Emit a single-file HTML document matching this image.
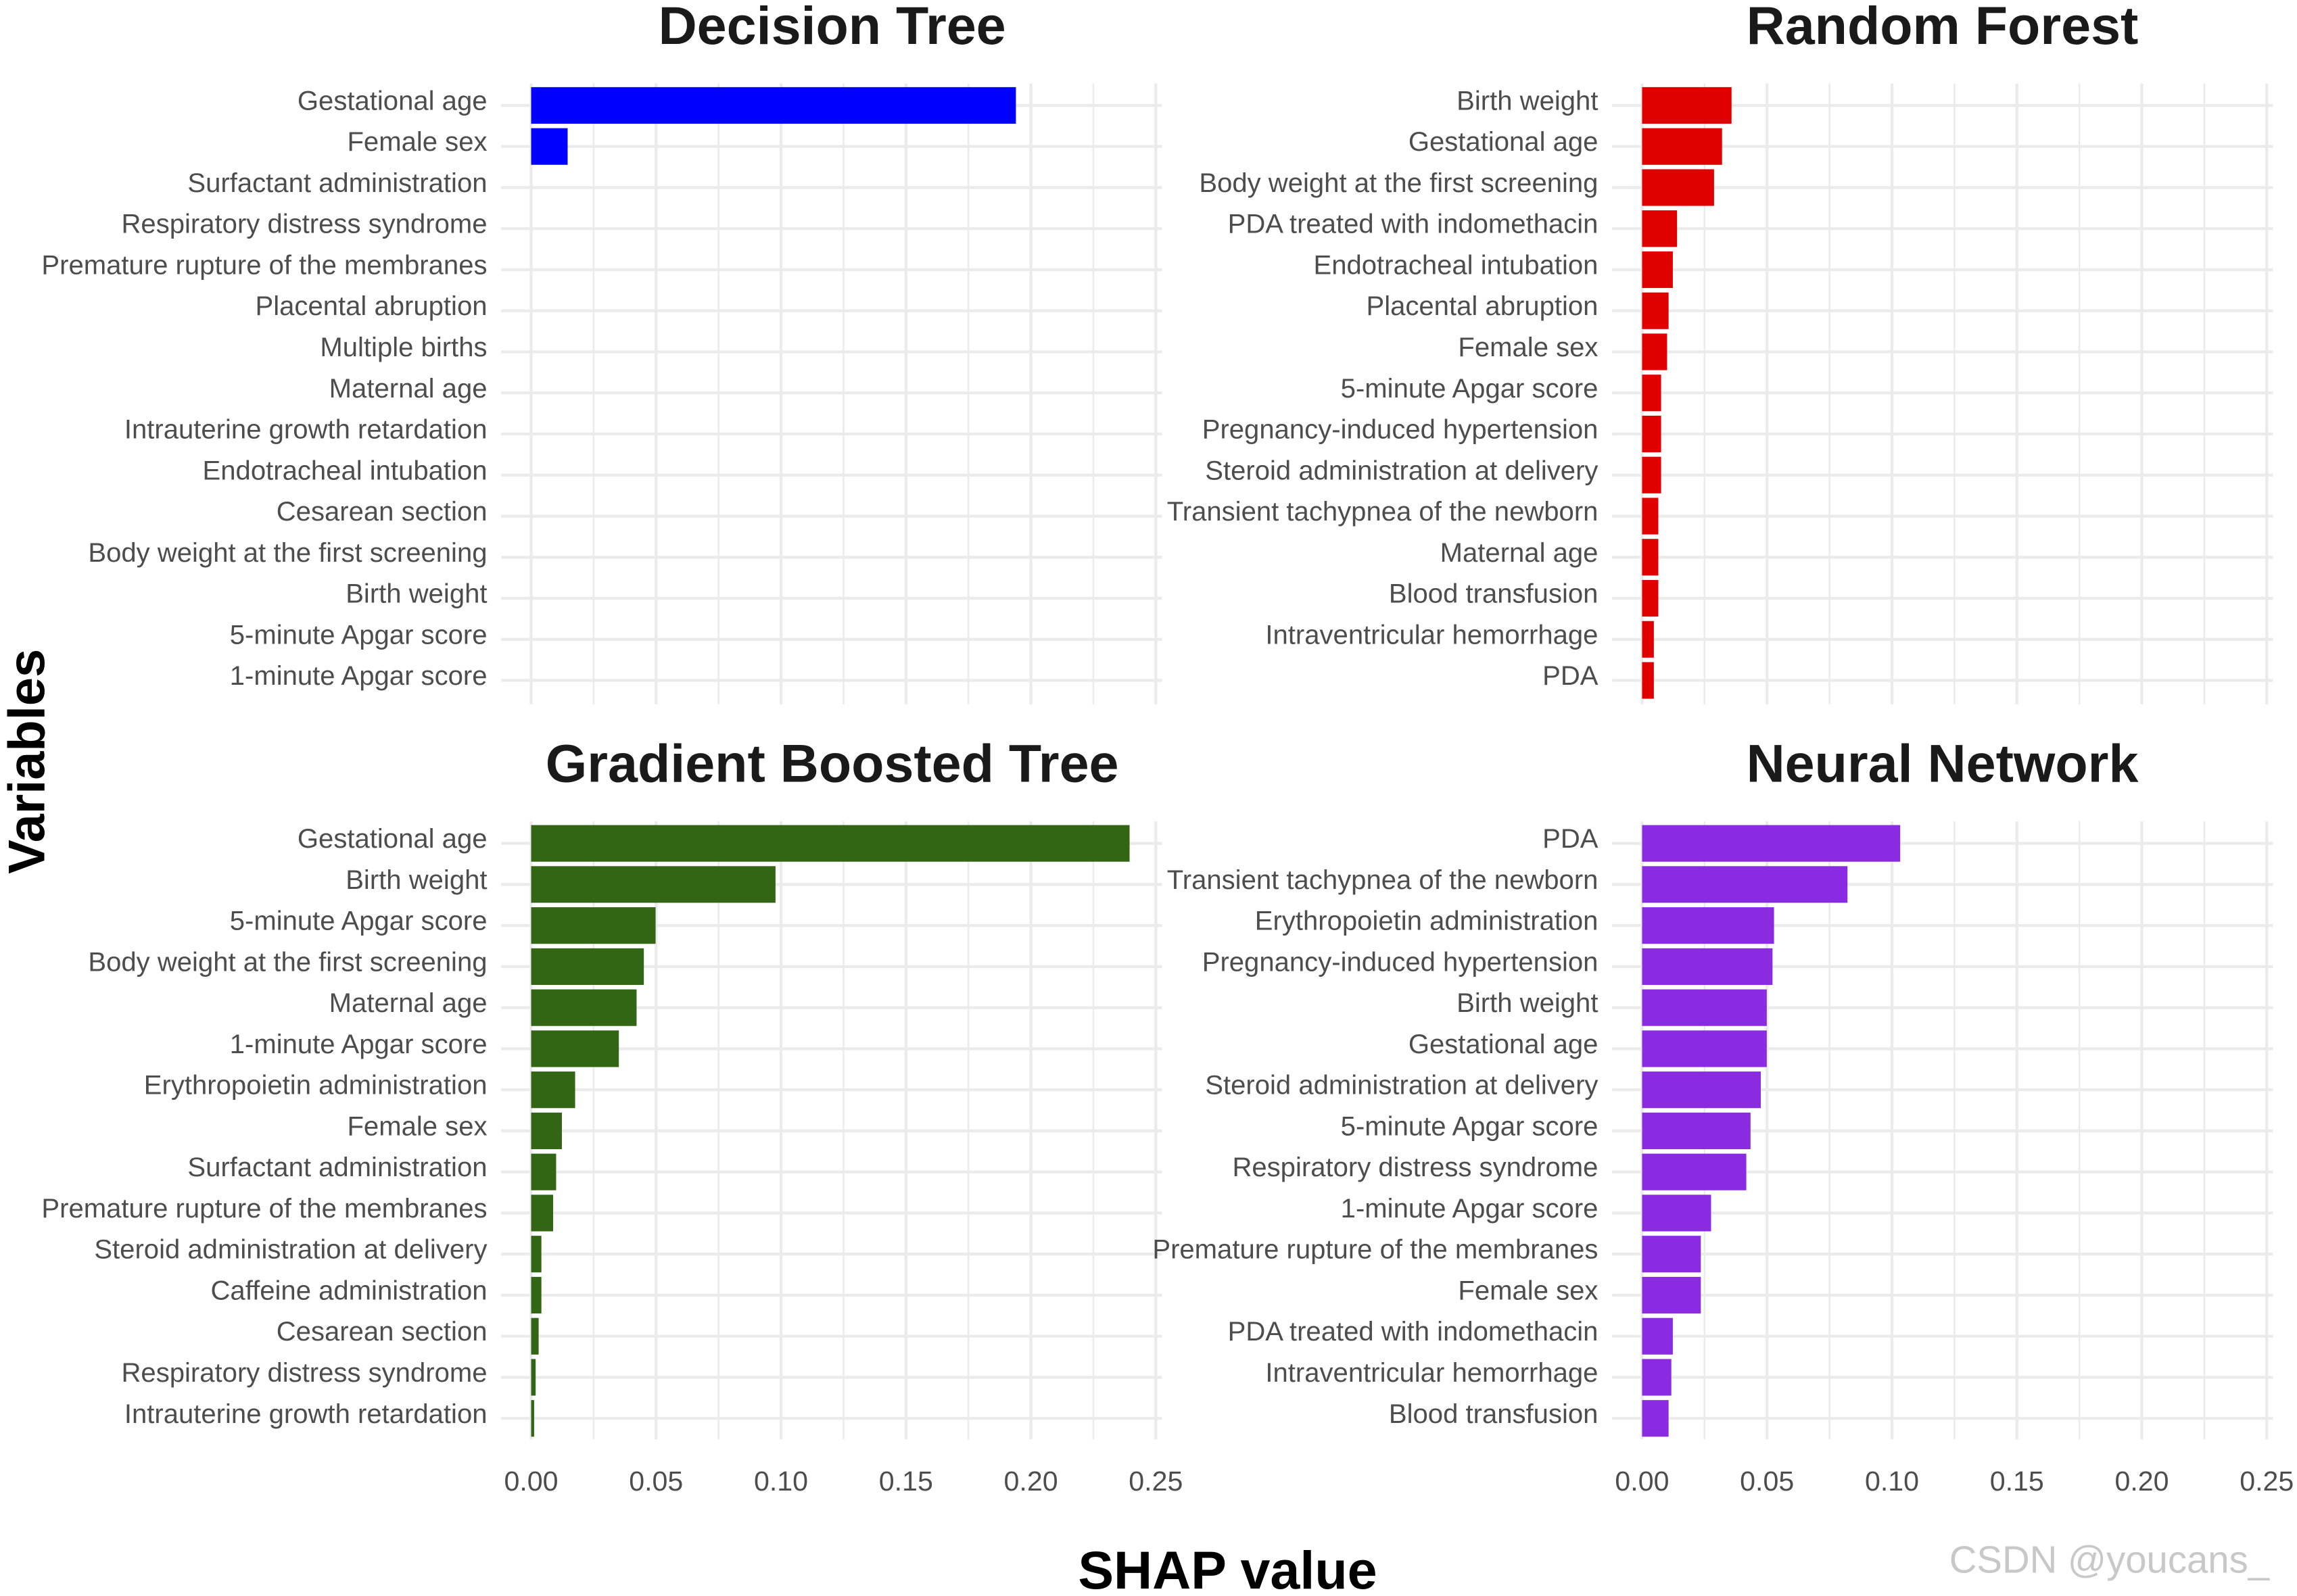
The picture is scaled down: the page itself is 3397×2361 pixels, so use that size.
<!DOCTYPE html>
<html><head><meta charset="utf-8"><style>
html,body{margin:0;padding:0;background:#fff;}
svg{display:block;font-family:"Liberation Sans",Arial,sans-serif;}
</style></head><body>
<svg id="chart" width="3397" height="2361" viewBox="0 0 1568 1090" xmlns="http://www.w3.org/2000/svg">
<rect width="1568" height="1090" fill="#fff"/>
<text transform="translate(30,520) rotate(-90)" text-anchor="middle" font-size="35" font-weight="bold" fill="#000">Variables</text>
<text x="838" y="1085" text-anchor="middle" font-size="36.5" font-weight="bold" fill="#000">SHAP value</text>
<text x="1440" y="1074" text-anchor="middle" font-size="26" fill="#c8c8c8">CSDN @youcans_</text>
<g id="panels"></g>
</svg>
<script>
const dtLabels=["Gestational age","Female sex","Surfactant administration","Respiratory distress syndrome","Premature rupture of the membranes","Placental abruption","Multiple births","Maternal age","Intrauterine growth retardation","Endotracheal intubation","Cesarean section","Body weight at the first screening","Birth weight","5-minute Apgar score","1-minute Apgar score"];
const dtValues=[0.194,0.0146,0,0,0,0,0,0,0,0,0,0,0,0,0];
const rfLabels=["Birth weight","Gestational age","Body weight at the first screening","PDA treated with indomethacin","Endotracheal intubation","Placental abruption","Female sex","5-minute Apgar score","Pregnancy-induced hypertension","Steroid administration at delivery","Transient tachypnea of the newborn","Maternal age","Blood transfusion","Intraventricular hemorrhage","PDA"];
const rfValues=[0.0358,0.032,0.0288,0.014,0.0123,0.0106,0.010,0.0076,0.0076,0.0076,0.0065,0.0065,0.0065,0.0047,0.0047];
const gbLabels=["Gestational age","Birth weight","5-minute Apgar score","Body weight at the first screening","Maternal age","1-minute Apgar score","Erythropoietin administration","Female sex","Surfactant administration","Premature rupture of the membranes","Steroid administration at delivery","Caffeine administration","Cesarean section","Respiratory distress syndrome","Intrauterine growth retardation"];
const gbValues=[0.2395,0.0978,0.0498,0.0451,0.0422,0.0351,0.0176,0.0123,0.010,0.0088,0.0041,0.0041,0.003,0.0018,0.0012];
const nnLabels=["PDA","Transient tachypnea of the newborn","Erythropoietin administration","Pregnancy-induced hypertension","Birth weight","Gestational age","Steroid administration at delivery","5-minute Apgar score","Respiratory distress syndrome","1-minute Apgar score","Premature rupture of the membranes","Female sex","PDA treated with indomethacin","Intraventricular hemorrhage","Blood transfusion"];
const nnValues=[0.1033,0.0822,0.0528,0.0522,0.0499,0.0499,0.0475,0.0434,0.0417,0.0276,0.0235,0.0235,0.0123,0.0117,0.0106];
const tickValues=[0,0.05,0.10,0.15,0.20,0.25];
const tickLabels=["0.00","0.05","0.10","0.15","0.20","0.25"];
const titles=["Decision Tree","Random Forest","Gradient Boosted Tree","Neural Network"];

const NS="http://www.w3.org/2000/svg";
const root=document.getElementById('panels');
function mk(tag,attrs,parent){const e=document.createElementNS(NS,tag);for(const k in attrs)e.setAttribute(k,attrs[k]);parent.appendChild(e);return e;}
const panels=[
 {labels:dtLabels,values:dtValues,color:"#0000ff",x0:362.5,top:57,bottom:481,firstY:72,titleX:568,titleY:30,name:"decision-tree",axis:false},
 {labels:rfLabels,values:rfValues,color:"#e00000",x0:1121,top:57,bottom:481,firstY:72,titleX:1326,titleY:30,name:"random-forest",axis:false},
 {labels:gbLabels,values:gbValues,color:"#336614",x0:362.5,top:561,bottom:983,firstY:576,titleX:568,titleY:534,name:"gradient-boosted-tree",axis:true},
 {labels:nnLabels,values:nnValues,color:"#8a2be2",x0:1121,top:561,bottom:983,firstY:576,titleX:1326,titleY:534,name:"neural-network",axis:true}
];
const pxPerUnit=1706, step=28.05, barH=25;
panels.forEach((p,pi)=>{
 const g=mk('g',{},root);
 
 
 const xs=v=>p.x0+v*pxPerUnit;
 const ys=i=>p.firstY+i*step;
 const left=xs(-0.012), right=xs(0.2525);
 for(let k=0;k<=10;k++){
  const v=k*0.025;
  const l=mk('line',{x1:xs(v),x2:xs(v),y1:p.top,y2:p.bottom,stroke:"#ebebeb","stroke-width":k%2?1.2:2},g);
  
  
 }
 p.labels.forEach((lab,i)=>{
  const l=mk('line',{x1:left,x2:right,y1:ys(i),y2:ys(i),stroke:"#ebebeb","stroke-width":2},g);
  
  
 });
 p.labels.forEach((lab,i)=>{
  const v=p.values[i];
  if(v>0){
   const r=mk('rect',{x:xs(0),y:ys(i)-barH/2,width:xs(v)-xs(0),height:barH,fill:p.color},g);
   
   
  }
  const t=mk('text',{x:p.x0-30,y:ys(i)+3,"text-anchor":"end","font-size":18.5,fill:"#4d4d4d"},g);
  t.textContent=lab;
  
  
 });
 const tt=mk('text',{x:p.titleX,y:p.titleY,"text-anchor":"middle","font-size":36.5,"font-weight":"bold",fill:"#1a1a1a"},g);
 tt.textContent=titles[pi];
 
 
 if(p.axis){
  tickValues.forEach((v,i)=>{
   const t=mk('text',{x:xs(v),y:1018,"text-anchor":"middle","font-size":19,fill:"#4d4d4d"},g);
   t.textContent=tickLabels[i];
   
   
  });
 }
});
</script>
</body></html>
